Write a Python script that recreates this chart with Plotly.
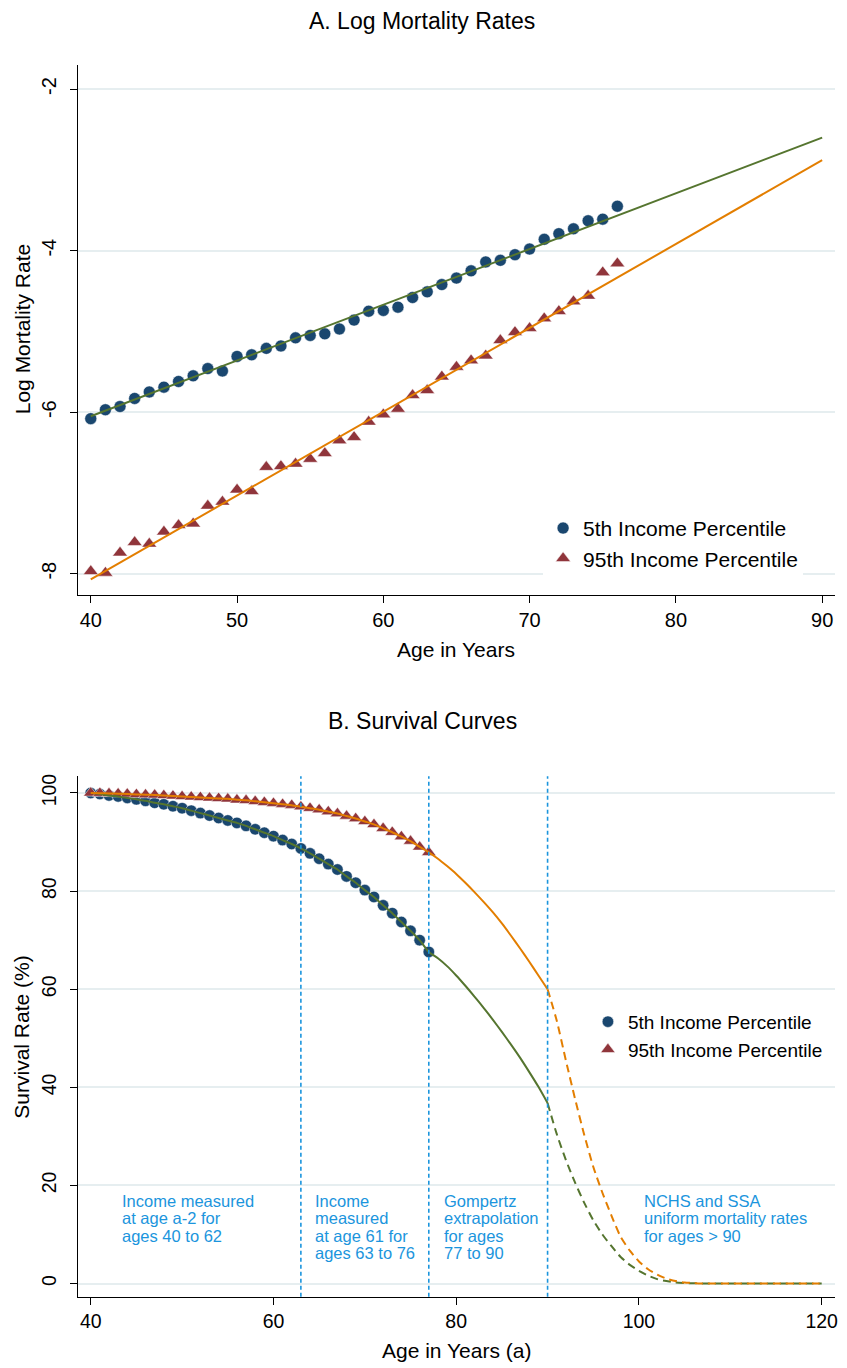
import plotly.graph_objects as go

# ---------------- Panel A data: log mortality rates ----------------
ages_a = list(range(40, 77))
logm_p5 = [-6.08, -5.97, -5.93, -5.83, -5.75, -5.69, -5.62, -5.55, -5.46, -5.49,
           -5.31, -5.29, -5.21, -5.18, -5.08, -5.05, -5.03, -4.97, -4.86, -4.75,
           -4.74, -4.70, -4.58, -4.51, -4.42, -4.34, -4.25, -4.14, -4.12, -4.05,
           -3.98, -3.86, -3.79, -3.73, -3.63, -3.61, -3.45]
logm_p95 = [-7.97, -7.99, -7.74, -7.61, -7.63, -7.48, -7.40, -7.38, -7.16, -7.11,
            -6.96, -6.98, -6.68, -6.67, -6.64, -6.58, -6.51, -6.35, -6.31, -6.12,
            -6.03, -5.96, -5.79, -5.73, -5.56, -5.44, -5.36, -5.30, -5.11, -5.01,
            -4.96, -4.84, -4.75, -4.63, -4.56, -4.27, -4.16]
fit_ages_a = [40, 90]
fit_p5 = [-6.05, -2.60]
fit_p95 = [-8.07, -2.88]
xticks_a = [40, 50, 60, 70, 80, 90]
yticks_a = [-8, -6, -4, -2]
yticklabels_a = ["-8", "-6", "-4", "-2"]

# ---------------- Panel B data: survival curves ----------------
ages_b = list(range(40, 78))
surv_p5 = [100.0, 99.8, 99.5, 99.3, 99.0, 98.7, 98.4, 98.0, 97.7, 97.3,
           96.9, 96.4, 95.9, 95.4, 94.9, 94.4, 93.9, 93.3, 92.6, 91.9,
           91.2, 90.4, 89.6, 88.7, 87.7, 86.6, 85.5, 84.4, 83.0, 81.7,
           80.2, 78.8, 77.1, 75.5, 73.7, 71.9, 70.0, 67.6]
surv_p95 = [100.0, 99.96, 99.9, 99.85, 99.8, 99.7, 99.65, 99.6, 99.5, 99.4,
            99.3, 99.2, 99.1, 99.0, 98.9, 98.8, 98.6, 98.5, 98.3, 98.1,
            97.9, 97.7, 97.5, 97.2, 96.9, 96.6, 96.2, 95.8, 95.3, 94.8,
            94.2, 93.6, 92.8, 92.0, 91.1, 90.2, 89.0, 87.9]
ext_ages = list(range(78, 91))
ext_p5 = [66.3, 64.7, 62.8, 60.7, 58.5, 56.2, 53.8, 51.3, 48.7, 46.0, 43.1, 40.1, 36.8]
ext_p95 = [86.6, 85.1, 83.5, 81.7, 79.8, 77.8, 75.7, 73.4, 70.9, 68.3, 65.6, 62.8, 60.0]
tail_ages = list(range(90, 121))
tail_p5 = [36.8, 30.5, 25.2, 20.6, 16.5, 12.9, 10.0, 7.6, 5.4, 3.8,
           2.6, 1.6, 0.9, 0.5, 0.2, 0.1, 0.05, 0.0, 0.0, 0.0,
           0.0, 0.0, 0.0, 0.0, 0.0, 0.0, 0.0, 0.0, 0.0, 0.0, 0.0]
tail_p95 = [60.0, 53.6, 45.5, 37.7, 30.4, 23.8, 18.5, 13.8, 9.5, 6.7,
            4.5, 2.9, 1.8, 1.0, 0.5, 0.2, 0.1, 0.0, 0.0, 0.0,
            0.0, 0.0, 0.0, 0.0, 0.0, 0.0, 0.0, 0.0, 0.0, 0.0, 0.0]
vline_ages = [63, 77, 90]
xticks_b = [40, 60, 80, 100, 120]
yticks_b = [0, 20, 40, 60, 80, 100]
region_labels = [
    (43.2, ["Income measured", "at age a-2 for", "ages 40 to 62"]),
    (64.3, ["Income", "measured", "at age 61 for", "ages 63 to 76"]),
    (78.4, ["Gompertz", "extrapolation", "for ages", "77 to 90"]),
    (100.3, ["NCHS and SSA", "uniform mortality rates", "for ages > 90"]),
]
series_names = ["5th Income Percentile", "95th Income Percentile"]

# ---------------- styles ----------------
NAVY = "#1a476f"
MAROON = "#90353b"
GREEN = "#55752f"
ORANGE = "#e37e00"
BLUE = "#1b95dd"
GRID = "#e6eef0"
FONT = "Liberation Sans, Arial, Helvetica, sans-serif"

# the page body has an 8px margin; the figure is sized to fill the rest of the window
OFF = 8
W, H = 847 - OFF, 1368 - OFF

def px(xp):
    return (xp - OFF) / W

def py(yp):
    return 1 - (yp - OFF) / H

EDGE = dict(color="rgba(255,255,255,0.5)", width=1)
circle_a = dict(symbol="circle", size=12, color=NAVY, line=EDGE)
tri_a = dict(symbol="triangle-up", size=13, color=MAROON, line=EDGE)
circle_b = dict(symbol="circle", size=11.5, color=NAVY, line=EDGE)
tri_b = dict(symbol="triangle-up", size=12.5, color=MAROON, line=EDGE)

fig = go.Figure()

# Panel A markers
fig.add_trace(go.Scatter(x=ages_a, y=logm_p5, mode="markers", name=series_names[0],
                         marker=circle_a, xaxis="x", yaxis="y", legend="legend"))
fig.add_trace(go.Scatter(x=ages_a, y=logm_p95, mode="markers", name=series_names[1],
                         marker=tri_a, xaxis="x", yaxis="y", legend="legend"))
fig.add_trace(go.Scatter(x=fit_ages_a, y=fit_p5, mode="lines", showlegend=False,
                         line=dict(color=GREEN, width=2), xaxis="x", yaxis="y"))
fig.add_trace(go.Scatter(x=fit_ages_a, y=fit_p95, mode="lines", showlegend=False,
                         line=dict(color=ORANGE, width=2), xaxis="x", yaxis="y"))

# Panel B markers
fig.add_trace(go.Scatter(x=ages_b, y=surv_p5, mode="markers", name=series_names[0],
                         marker=circle_b, xaxis="x2", yaxis="y2", legend="legend2"))
fig.add_trace(go.Scatter(x=ages_b, y=surv_p95, mode="markers", name=series_names[1],
                         marker=tri_b, xaxis="x2", yaxis="y2", legend="legend2"))
# solid fitted / extrapolated curves
fig.add_trace(go.Scatter(x=ages_b + ext_ages, y=surv_p5 + ext_p5, mode="lines", showlegend=False,
                         line=dict(color=GREEN, width=2, shape="spline", smoothing=0.6),
                         xaxis="x2", yaxis="y2"))
fig.add_trace(go.Scatter(x=ages_b + ext_ages, y=surv_p95 + ext_p95, mode="lines", showlegend=False,
                         line=dict(color=ORANGE, width=2, shape="spline", smoothing=0.6),
                         xaxis="x2", yaxis="y2"))
# dashed tails
fig.add_trace(go.Scatter(x=tail_ages, y=tail_p5, mode="lines", showlegend=False,
                         line=dict(color=GREEN, width=2, dash="8px,5px", shape="spline", smoothing=0.6),
                         xaxis="x2", yaxis="y2"))
fig.add_trace(go.Scatter(x=tail_ages, y=tail_p95, mode="lines", showlegend=False,
                         line=dict(color=ORANGE, width=2, dash="8px,5px", shape="spline", smoothing=0.6),
                         xaxis="x2", yaxis="y2"))

dom_x = [px(78), px(838)]

axis_common = dict(showline=True, linecolor="black", linewidth=1, ticks="outside",
                   ticklen=7, tickcolor="black", tickwidth=1, zeroline=False, mirror=False)

fig.update_layout(
    width=W, height=H,
    margin=dict(l=0, r=0, t=0, b=0),
    paper_bgcolor="white", plot_bgcolor="white",
    font=dict(family=FONT, color="black"),
    xaxis=dict(domain=dom_x, range=[39.11, 90.88], tickvals=xticks_a, anchor="y",
               showgrid=False, tickfont=dict(size=20), **axis_common),
    yaxis=dict(domain=[py(593), py(62)], range=[-8.26, -1.70], tickvals=yticks_a,
               ticktext=yticklabels_a,
               anchor="x", tickangle=-90, showgrid=True, gridcolor=GRID, gridwidth=1.5,
               tickfont=dict(size=20), ticklabelstandoff=6, **axis_common),
    xaxis2=dict(domain=dom_x, range=[38.58, 121.46], tickvals=xticks_b, anchor="y2",
                showgrid=False, tickfont=dict(size=19.5), **axis_common),
    yaxis2=dict(domain=[py(1296.7), py(775)], range=[-2.72, 103.4], tickvals=yticks_b,
                anchor="x2", tickangle=-90, showgrid=True, gridcolor=GRID, gridwidth=1.5,
                tickfont=dict(size=19.5), ticklabelstandoff=6, **axis_common),
    legend=dict(x=px(545), y=py(506), xanchor="left", yanchor="top",
                bgcolor="white", borderwidth=0, font=dict(size=21, color="black"),
                itemclick=False),
    legend2=dict(x=px(590), y=py(1002), xanchor="left", yanchor="top",
                 bgcolor="white", borderwidth=0, font=dict(size=19, color="black"),
                 itemclick=False),
    showlegend=True,
)

# vertical dashed reference lines
for a in vline_ages:
    fig.add_shape(type="line", xref="x2", yref="y2 domain", x0=a, x1=a, y0=0, y1=1,
                  line=dict(color=BLUE, width=1.6, dash="4px,3px"))

# region labels
for xa, lines in region_labels:
    for i, t in enumerate(lines):
        fig.add_annotation(x=xa, y=16.9, xref="x2", yref="y2", text=t, showarrow=False,
                           xanchor="left", yanchor="middle", yshift=-17.5 * i,
                           font=dict(size=16.5, color=BLUE))

# titles and axis titles
texts = [
    ("A. Log Mortality Rates", 0.5 * (px(0) + px(847)), py(18), 0, 23),
    ("B. Survival Curves", 0.5 * (px(0) + px(847)), py(720), 0, 23),
    ("Age in Years", px(458), py(648), 0, 21),
    ("Age in Years (a)", px(458), py(1350), 0, 21),
    ("Log Mortality Rate", px(22), py(327), -90, 21),
    ("Survival Rate (%)", px(22), py(1036), -90, 21),
]
for t, x, y, ang, sz in texts:
    fig.add_annotation(x=x, y=y, xref="paper", yref="paper", text=t, showarrow=False,
                       xanchor="center", yanchor="middle", textangle=ang,
                       font=dict(size=sz, color="black"))

fig.write_html("out.html")
